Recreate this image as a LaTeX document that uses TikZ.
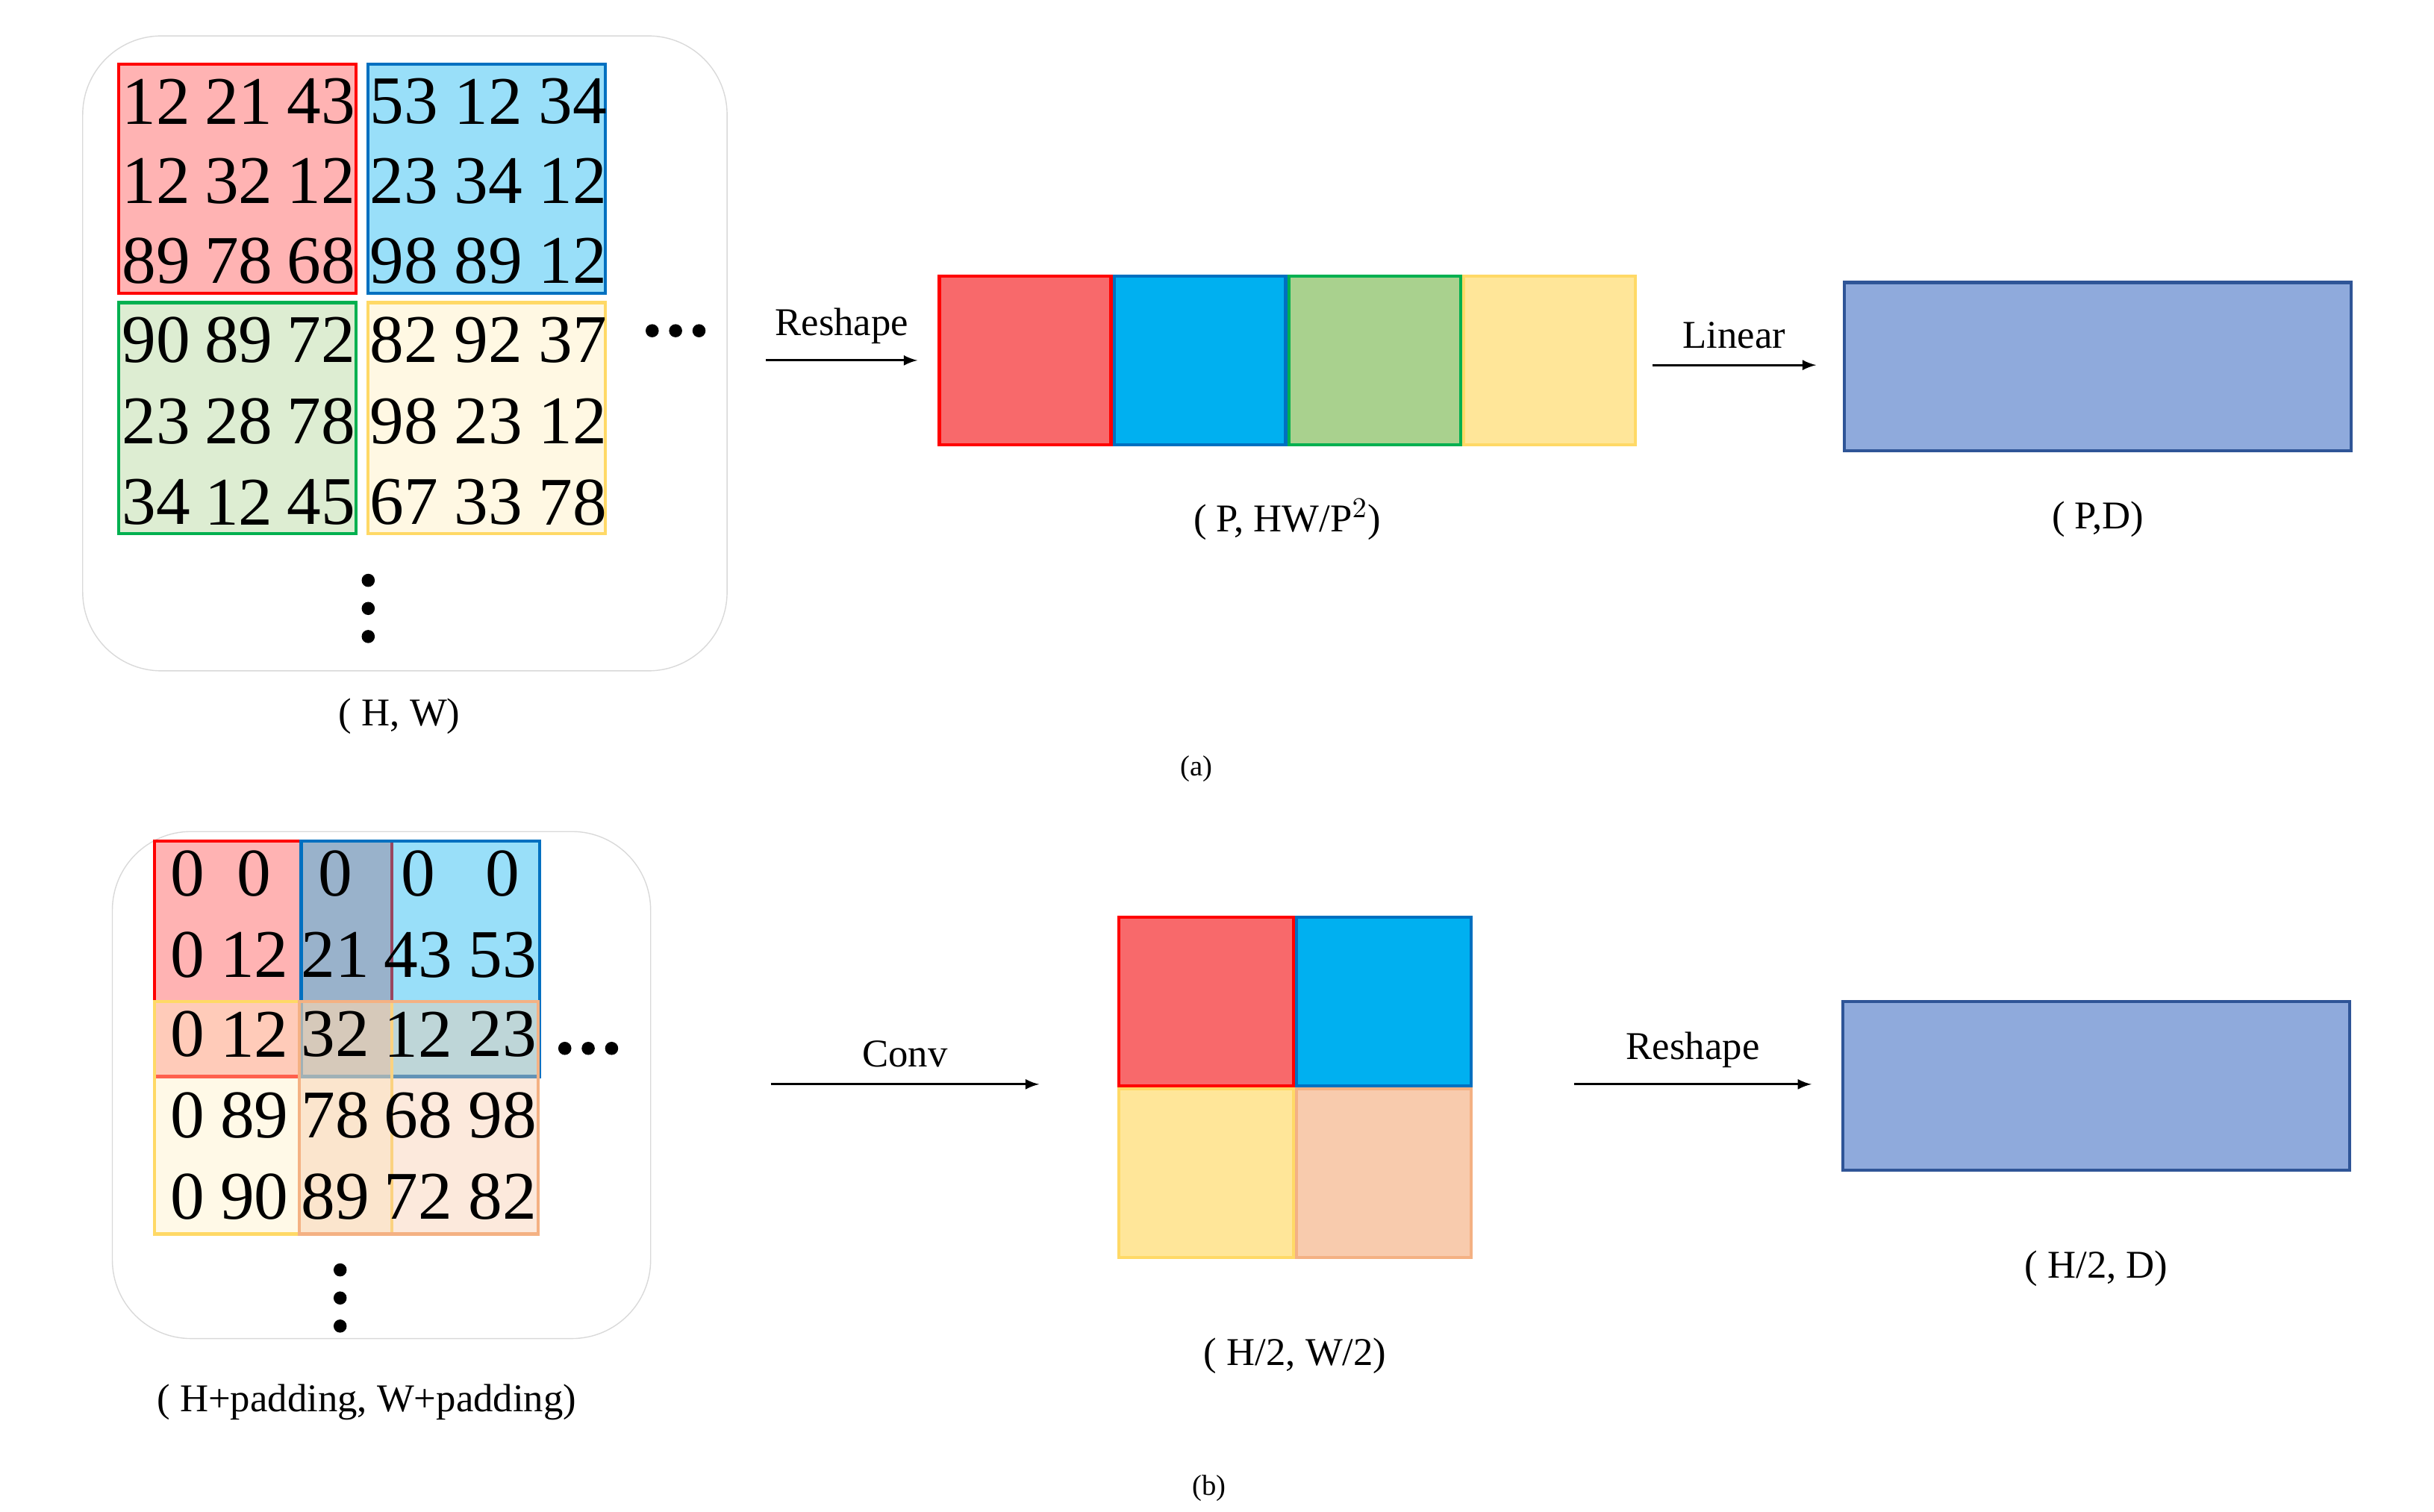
\documentclass[tikz,border=0pt]{standalone}
\usepackage{fontspec}
\setmainfont{Liberation Serif}
\usetikzlibrary{positioning}
\definecolor{pred}{HTML}{F8696B}
\definecolor{pblue}{HTML}{00B0F0}
\definecolor{pgreen}{HTML}{A9D18E}
\definecolor{pyellow}{HTML}{FFE699}
\definecolor{porange}{HTML}{F8CBAD}
\definecolor{bgreen}{HTML}{00B050}
\definecolor{byellow}{HTML}{FFD966}
\definecolor{borange}{HTML}{F4B183}
\definecolor{bblue}{HTML}{0070C0}
\definecolor{lin}{HTML}{8FAADC}
\definecolor{linb}{HTML}{2F5597}

\begin{document}
\begin{tikzpicture}[x=0.0209cm,y=-0.0209cm]
    \tikzstyle{num}=[font=\fontsize{26}{28}\selectfont,inner sep=0pt]
    \tikzstyle{lbl}=[font=\fontsize{15}{17}\selectfont,inner sep=0pt]
    \tikzstyle{frame}=[draw=black!15,rounded corners=30pt]
    \tikzstyle{patch}=[line width=1.2pt,fill opacity=0.4]
    \tikzstyle{block}=[line width=1.2pt,draw,minimum width=110*0.0209cm,minimum height=108*0.0209cm,inner sep=0pt,anchor=north west]
    \tikzstyle{vec}=[fill=lin,draw=linb,line width=1.2pt,minimum width=325*0.0209cm,minimum height=108*0.0209cm,inner sep=0pt,anchor=north west]
    \tikzstyle{vdots}=[circle,fill=black,inner sep=0pt,minimum size=5pt]
    \useasboundingbox (0,0) rectangle (1560,969);

    % (a)
    \draw[frame] (53,23) rectangle (466,430);
    \draw[patch,draw=red,fill=red!75] (76,41) rectangle (228,188);
    \draw[patch,draw=bblue,fill=pblue] (236,41) rectangle (388,188);
    \draw[patch,draw=bgreen,fill=pgreen] (76,194) rectangle (228,342);
    \draw[patch,draw=byellow,fill=pyellow!70] (236,194) rectangle (388,342);
    \foreach \r/\y/\row in {0/65/{12,21,43,53,12,34},1/116/{12,32,12,23,34,12},2/167/{89,78,68,98,89,12},
                            3/218/{90,89,72,82,92,37},4/270/{23,28,78,98,23,12},5/322/{34,12,45,67,33,78}}{
        \foreach \v [count=\c] in \row {
            \pgfmathsetmacro{\xx}{\c<4 ? 100+(\c-1)*53 : 259+(\c-4)*54}
            \node[num] (a\r\c) at (\xx,\y) {\v};
        }
    }
    \foreach \x in {418,433,448} \node[vdots] at (\x,212) {};
    \foreach \y in {372,390,408} \node[vdots] at (236,\y) {};
    \node[lbl] (hw) at (256,459) {( H, W)};

    \node[block,fill=pred,draw=red] (p1) at (601,176) {};
    \node[block,fill=pblue,draw=bblue,right=0pt of p1] (p2) {};
    \node[block,fill=pgreen,draw=bgreen,right=0pt of p2] (p3) {};
    \node[block,fill=pyellow,draw=byellow,right=0pt of p3] (p4) {};
    \node[lbl,below=20pt of p2.south east] (phw) {( P, HW/P$^{2}$)};
    \node[vec] (pd) at (1181,180) {};
    \node[lbl] at (pd |- phw) {( P,D)};

    \coordinate (r1s) at (491,231);
    \coordinate (r1e) at (588,231);
    \draw[-latex,thick] (r1s) -- node[lbl,above=6pt] {Reshape} (r1e);
    \coordinate (l1s) at (1059,234);
    \coordinate (l1e) at (1164,234);
    \draw[-latex,thick] (l1s) -- node[lbl,above=6pt] {Linear} (l1e);
    \node[font=\fontsize{11}{13}\selectfont] at (767,493) {(a)};

    % (b)
    \draw[frame] (72,533) rectangle (417,858);
    \draw[patch,draw=red,fill=red!75] (99,539) rectangle (251,690);
    \draw[patch,draw=bblue,fill=pblue] (193,539) rectangle (346,690);
    \draw[patch,draw=byellow,fill=pyellow!60] (99,642) rectangle (251,791);
    \draw[patch,draw=borange,fill=borange!70] (192,642) rectangle (345,791);
    \foreach \r/\y/\row in {0/560/{0,0,0,0,0},1/612/{0,12,21,43,53},2/663/{0,12,32,12,23},
                            3/715/{0,89,78,68,98},4/767/{0,90,89,72,82}}{
        \foreach \v/\x [count=\c] in \row {
            \pgfmathsetmacro{\xx}{{120,163,215,268,322}[\c-1]}
            \node[num] (b\r\c) at (\xx,\y) {\v};
        }
    }
    \foreach \x in {362,377,392} \node[vdots] at (\x,672) {};
    \foreach \y in {814,832,850} \node[vdots] at (218,\y) {};
    \node[lbl] (hp) at (235,899) {( H+padding, W+padding)};

    \node[block,fill=pred,draw=red,minimum width=112*0.0209cm] (c1) at (716,587) {};
    \node[block,fill=pblue,draw=bblue,minimum width=112*0.0209cm,right=0pt of c1] (c2) {};
    \node[block,fill=pyellow,draw=byellow,minimum width=112*0.0209cm,below=0pt of c1] (c3) {};
    \node[block,fill=porange,draw=borange,minimum width=112*0.0209cm,right=0pt of c3] (c4) {};
    \node[lbl,below=30pt of c3.south east] (hw2) {( H/2, W/2)};
    \node[vec] (hd) at (1180,641) {};
    \node[lbl,below=30pt of hd] {( H/2, D)};

    \coordinate (cvs) at (494,695);
    \coordinate (cve) at (666,695);
    \draw[-latex,thick] (cvs) -- node[lbl,above=6pt] {Conv} (cve);
    \coordinate (r2s) at (1009,695);
    \coordinate (r2e) at (1161,695);
    \draw[-latex,thick] (r2s) -- node[lbl,above=6pt] {Reshape} (r2e);
    \node[font=\fontsize{11}{13}\selectfont] at (775,954) {(b)};
\end{tikzpicture}
\end{document}
